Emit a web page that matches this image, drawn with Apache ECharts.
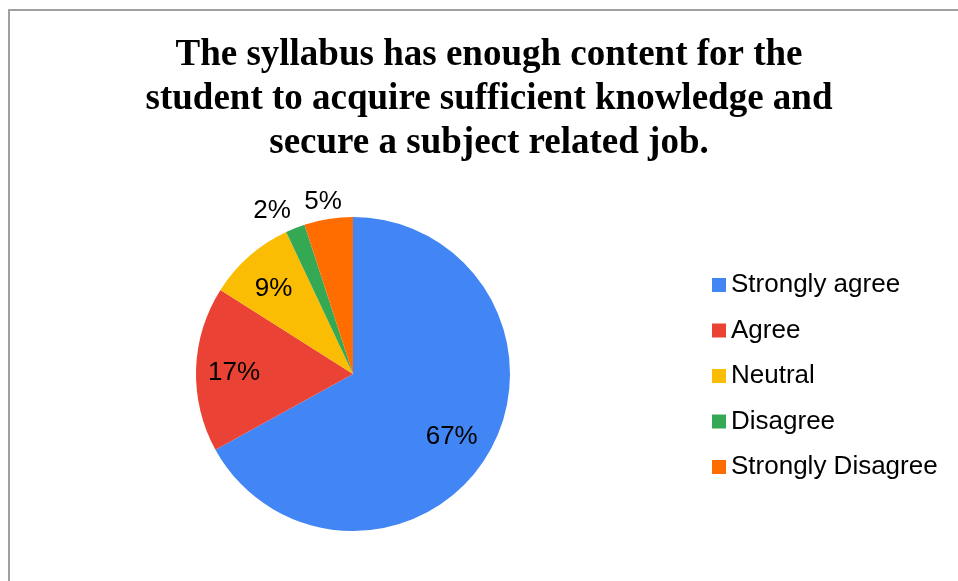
<!DOCTYPE html>
<html>
<head>
<meta charset="utf-8">
<script src="https://cdn.jsdelivr.net/npm/echarts@6/dist/echarts.min.js"></script>
<style>
html,body{margin:0;padding:0;background:#fff;}
#frame{position:absolute;left:8px;top:9px;width:1000px;height:600px;border-left:2px solid #a0a0a0;border-top:2px solid #a0a0a0;box-sizing:border-box;}
#chart{position:absolute;left:0;top:0;width:958px;height:581px;}
</style>
</head>
<body>
<div id="frame"></div>
<div id="chart"></div>
<script>
const titleText = 'The syllabus has enough content for the\nstudent to acquire sufficient knowledge and\nsecure a subject related job.';
const categories = ['Strongly agree', 'Agree', 'Neutral', 'Disagree', 'Strongly Disagree'];
const values = [67, 17, 9, 2, 5];
const colors = ['#4285F4', '#EA4335', '#FBBC04', '#34A853', '#FF6D01'];
const outsideLabels = ['Disagree', 'Strongly Disagree'];
const outsideOffsets = { 'Disagree': [-15, 3], 'Strongly Disagree': [-2, 5] };

const chart = echarts.init(document.getElementById('chart'));
const center = [353, 374];
const R = 157;
const pieData = categories.map((c, i) => ({ name: c, value: values[i] }));

const labelStyle = { color: '#000', fontSize: 26, fontFamily: 'Liberation Sans, Arial, sans-serif' };

chart.setOption({
  animation: false,
  graphic: [{
    type: 'text',
    x: 489,
    y: 33,
    silent: true,
    style: {
      text: titleText,
      align: 'center',
      verticalAlign: 'top',
      fontFamily: 'Liberation Serif, Times New Roman, serif',
      fontWeight: 'bold',
      fontSize: 37,
      lineHeight: 44,
      fill: '#000'
    }
  }],
  legend: {
    data: categories,
    orient: 'vertical',
    left: 707,
    top: 265,
    itemWidth: 14,
    itemHeight: 14,
    itemGap: 15.5,
    icon: 'rect',
    textStyle: { fontSize: 26, lineHeight: 30, fontFamily: 'Liberation Sans, Arial, sans-serif', color: '#000' }
  },
  color: colors,
  series: [
    {
      type: 'pie',
      name: 'main',
      center: center,
      radius: [0, R],
      startAngle: 90,
      clockwise: true,
      data: pieData,
      label: { show: false },
      labelLine: { show: false },
      itemStyle: { borderWidth: 0 },
      emphasis: { disabled: true }
    },
    {
      type: 'pie',
      name: 'innerLabels',
      center: center,
      radius: [80, 148],
      startAngle: 90,
      clockwise: true,
      silent: true,
      data: pieData.map(d => ({
        name: d.name, value: d.value,
        label: { show: outsideLabels.indexOf(d.name) < 0 }
      })),
      itemStyle: { color: 'rgba(0,0,0,0)', borderWidth: 0 },
      label: Object.assign({ position: 'inside', formatter: '{c}%', offset: [-2, 3] }, labelStyle),
      labelLine: { show: false },
      emphasis: { disabled: true }
    },
    {
      type: 'pie',
      name: 'outerLabels',
      center: center,
      radius: [168, 184],
      startAngle: 90,
      clockwise: true,
      silent: true,
      data: pieData.map(d => ({
        name: d.name, value: d.value,
        label: { show: outsideLabels.indexOf(d.name) >= 0, offset: outsideOffsets[d.name] || [0, 0] }
      })),
      itemStyle: { color: 'rgba(0,0,0,0)', borderWidth: 0 },
      label: Object.assign({ position: 'inside', formatter: '{c}%' }, labelStyle),
      labelLine: { show: false },
      emphasis: { disabled: true }
    }
  ]
});
</script>
</body>
</html>
